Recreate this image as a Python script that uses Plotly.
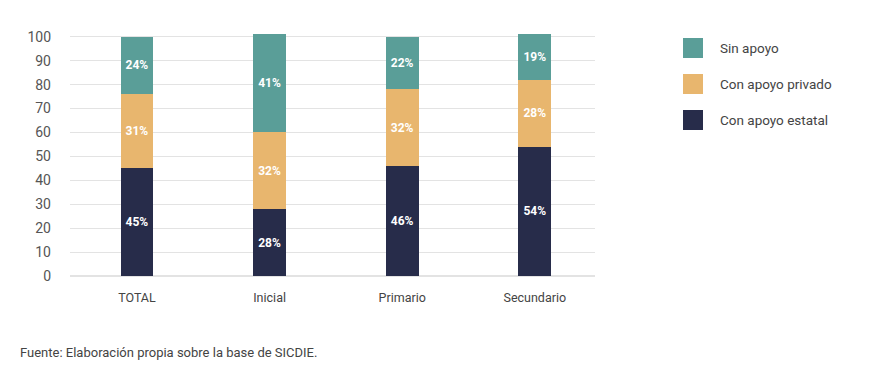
import plotly.graph_objects as go

categories = ["TOTAL", "Inicial", "Primario", "Secundario"]
estatal = [45, 28, 46, 54]
privado = [31, 32, 32, 28]
sin_apoyo = [24, 41, 22, 19]
series_names = ["Con apoyo estatal", "Con apoyo privado", "Sin apoyo"]
colors = ["#272c4a", "#e8b66e", "#5a9e98"]
y_ticks = list(range(0, 101, 10))

PW, PH = 525, 244  # plot area in px
fig = go.Figure()
for name, vals, col in zip(series_names, [estatal, privado, sin_apoyo], colors):
    fig.add_trace(go.Bar(
        x=categories, y=vals, name=name, marker_color=col, marker_line_width=0,
        text=[f"{v}%" for v in vals], textposition="inside", insidetextanchor="middle",
        textfont=dict(family="Roboto", size=12, color="white", weight="bold"),
        width=0.246, showlegend=False,
    ))

# custom legend (large squares)
legend_order = [2, 1, 0]
for i, idx in enumerate(legend_order):
    fig.add_shape(type="rect", xref="paper", yref="paper",
                  x0=(683 - 70) / PW, x1=(703 - 70) / PW,
                  y0=(276 - 58 - i * 36) / PH, y1=(276 - 38 - i * 36) / PH,
                  fillcolor=colors[idx], line_width=0)
    fig.add_annotation(xref="paper", yref="paper", x=(718 - 70) / PW,
                       y=(276 - 48 - i * 36) / PH, text=series_names[idx],
                       showarrow=False, xanchor="left", yanchor="middle",
                       font=dict(family="Roboto", size=13.5, color="#444"))

fig.add_annotation(xref="paper", yref="paper", x=(18 - 70) / PW, y=(276 - 352) / PH,
                   text="Fuente: Elaboración propia sobre la base de SICDIE.",
                   showarrow=False, xanchor="left", yanchor="middle",
                   font=dict(family="Roboto", size=13, color="#444"))

fig.update_layout(
    barmode="stack", width=878, height=375,
    margin=dict(l=62, r=291, t=24, b=107),
    plot_bgcolor="white", paper_bgcolor="white",
    font=dict(family="Roboto", color="#444"),
    xaxis=dict(range=[-0.505, 3.454], showgrid=False, showline=False, ticks="",
               ticklabelstandoff=12, tickfont=dict(size=12.5, color="#444")),
    yaxis=dict(range=[0, 102], tickvals=y_ticks, showgrid=True, gridcolor="#e3e3e3",
               gridwidth=1, zeroline=True, zerolinecolor="#e3e3e3", ticks="",
               tickfont=dict(size=14, color="#555"), ticklabelstandoff=18),
)
fig.write_html("out.html")
